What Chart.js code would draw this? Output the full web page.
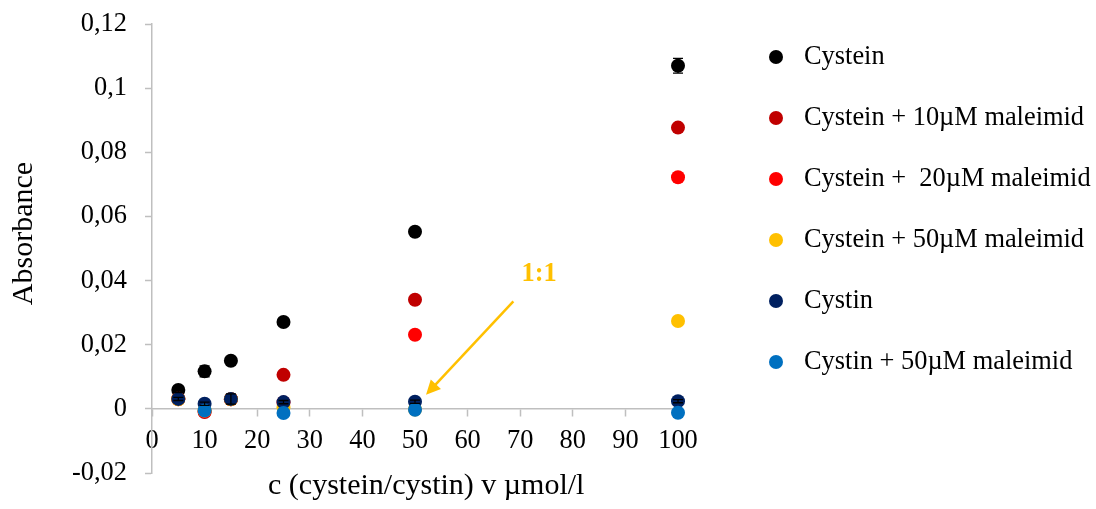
<!DOCTYPE html>
<html>
<head>
<meta charset="utf-8">
<script src="https://cdn.jsdelivr.net/npm/chart.js@4.4.1/dist/chart.umd.min.js"></script>
<style>
  html, body { margin: 0; padding: 0; background: #fff; }
  #wrap { width: 1096px; height: 509px; }
</style>
</head>
<body>
<div id="wrap"><canvas id="chart" width="1096" height="509"></canvas></div>
<script>
// concentrations on the x axis (µmol/l)
const concentrations = [5, 10, 15, 25, 50, 100];

// absorbance per series (null = no point)
const cystein      = [0.0059, 0.0117, 0.0150, 0.0271, 0.0552, 0.1070];
const cystein10    = [0.0032, -0.0010, 0.0030, 0.0106, 0.0340, 0.0877];
const cystein20    = [0.0030, -0.0008, 0.0030, 0.0020, 0.0231, 0.0722];
const cystein50    = [0.0030, -0.0005, 0.0030, 0.0004, -0.0002, 0.0274];
const cystin       = [0.0031, 0.0016, 0.0031, 0.0021, 0.0022, 0.0024];
const cystin50     = [null, -0.0005, null, -0.0013, -0.0003, -0.0012];

// error bars (± absorbance)
const cysteinErr = [0.0008, 0.0017, 0.0010, 0.0010, 0.0012, 0.0023];
const cystinErr  = [0.0005, 0.0005, 0.0016, 0.0005, 0.0005, 0.0005];

const seriesNames = [
  'Cystein',
  'Cystein + 10µM maleimid',
  'Cystein +  20µM maleimid',
  'Cystein + 50µM maleimid',
  'Cystin',
  'Cystin + 50µM maleimid'
];
const seriesValues = [cystein, cystein10, cystein20, cystein50, cystin, cystin50];
const seriesErrors = [cysteinErr, null, null, null, cystinErr, null];
const seriesColors = ['#000000', '#C00000', '#FF0000', '#FFC000', '#002060', '#0070C0'];

// axis limits
const xMin = 0, xMax = 100, xStep = 10;
const yMin = -0.02, yMax = 0.12, yStep = 0.02;

// annotation "1:1" (data coordinates)
const noteText = '1:1';
const noteLabelAt = { x: 73.6, y: 0.0419 };
const noteArrowFrom = { x: 68.7, y: 0.0335 };
const noteArrowTo = { x: 52.1, y: 0.0044 };

const FONT = "'Liberation Serif', 'Times New Roman', serif";
const FSIZE = 26.4;     // ticks, legend
const TSIZE = 30;       // axis titles
const AXIS_GREY = '#BFBFBF';

const fmt = v => parseFloat(Number(v).toFixed(4)).toString().replace('.', ',');

const datasets = seriesValues.map((vals, i) => ({
  label: seriesNames[i],
  data: concentrations.map((c, j) => ({ x: c, y: vals[j] })).filter(p => p.y !== null),
  errors: seriesErrors[i] ? concentrations.map((c, j) => vals[j] === null ? null : seriesErrors[i][j]) : null,
  backgroundColor: seriesColors[i],
  borderColor: seriesColors[i],
  pointRadius: 7,
  pointHoverRadius: 7,
  borderWidth: 0,
  showLine: false,
  clip: false,
  order: seriesValues.length - i   // later series on top, like Excel
}));

const errorBars = {
  id: 'errorBars',
  afterDatasetsDraw(chart) {
    const { ctx, scales: { x, y } } = chart;
    ctx.save();
    ctx.strokeStyle = '#000';
    ctx.lineWidth = 1.3;
    chart.data.datasets.forEach(ds => {
      if (!ds.errors) return;
      ds.data.forEach((p, i) => {
        const e = ds.errors[i];
        if (!e) return;
        const px = x.getPixelForValue(p.x);
        const top = y.getPixelForValue(p.y + e);
        const bot = y.getPixelForValue(p.y - e);
        ctx.beginPath();
        ctx.moveTo(px, top); ctx.lineTo(px, bot);
        ctx.moveTo(px - 5, top); ctx.lineTo(px + 5, top);
        ctx.moveTo(px - 5, bot); ctx.lineTo(px + 5, bot);
        ctx.stroke();
      });
    });
    ctx.restore();
  }
};

const noteArrow = {
  id: 'noteArrow',
  afterDatasetsDraw(chart) {
    const { ctx, scales: { x, y } } = chart;
    const x1 = x.getPixelForValue(noteArrowFrom.x), y1 = y.getPixelForValue(noteArrowFrom.y);
    const x2 = x.getPixelForValue(noteArrowTo.x), y2 = y.getPixelForValue(noteArrowTo.y);
    const ang = Math.atan2(y2 - y1, x2 - x1);
    const head = 16, spread = 0.45;
    ctx.save();
    ctx.strokeStyle = '#FFC000';
    ctx.fillStyle = '#FFC000';
    ctx.lineWidth = 2.5;
    ctx.beginPath();
    ctx.moveTo(x1, y1);
    ctx.lineTo(x2 - Math.cos(ang) * head * 0.8, y2 - Math.sin(ang) * head * 0.8);
    ctx.stroke();
    ctx.beginPath();
    ctx.moveTo(x2, y2);
    ctx.lineTo(x2 - head * Math.cos(ang - spread), y2 - head * Math.sin(ang - spread));
    ctx.lineTo(x2 - head * Math.cos(ang + spread), y2 - head * Math.sin(ang + spread));
    ctx.closePath();
    ctx.fill();
    ctx.font = 'bold ' + FSIZE + 'px ' + FONT;
    ctx.textAlign = 'center';
    ctx.textBaseline = 'middle';
    ctx.fillText(noteText, x.getPixelForValue(noteLabelAt.x), y.getPixelForValue(noteLabelAt.y));
    ctx.restore();
  }
};

// legend on the right, drawn from the datasets
const sideLegend = {
  id: 'sideLegend',
  afterDraw(chart) {
    const { ctx } = chart;
    ctx.save();
    ctx.font = FSIZE + 'px ' + FONT;
    ctx.textBaseline = 'middle';
    ctx.textAlign = 'left';
    chart.data.datasets.forEach((ds, i) => {
      const cy = 57 + i * 61;
      ctx.fillStyle = ds.backgroundColor;
      ctx.beginPath();
      ctx.arc(776, cy, 7, 0, Math.PI * 2);
      ctx.fill();
      ctx.fillStyle = '#000';
      ctx.fillText(ds.label, 804, cy);
    });
    ctx.restore();
  }
};

new Chart(document.getElementById('chart'), {
  type: 'scatter',
  data: { datasets },
  plugins: [errorBars, noteArrow, sideLegend],
  options: {
    responsive: false,
    animation: false,
    devicePixelRatio: 1,
    layout: { padding: { left: 0, right: 418, top: 24, bottom: 36 } },
    plugins: {
      legend: { display: false },
      tooltip: { enabled: false }
    },
    scales: {
      x: {
        type: 'linear',
        position: { y: 0 },
        min: xMin, max: xMax,
        ticks: { stepSize: xStep, color: '#000', font: { family: FONT, size: FSIZE }, padding: 9, maxRotation: 0, autoSkip: false },
        grid: { drawOnChartArea: false, drawTicks: true, tickLength: 7, color: AXIS_GREY, tickWidth: 1.5 },
        border: { color: AXIS_GREY, width: 1.5 },
        // leading spaces nudge the centred title right, as in the original
        title: { display: true, text: '   c (cystein/cystin) v µmol/l', color: '#000', font: { family: FONT, size: TSIZE }, padding: { top: 3, bottom: 0 } }
      },
      y: {
        type: 'linear',
        min: yMin, max: yMax,
        afterFit(scale) { scale.width = 152; scale.paddingTop = 0; scale.paddingBottom = 0; },
        ticks: { stepSize: yStep, color: '#000', font: { family: FONT, size: FSIZE }, padding: 18, callback: v => fmt(v) },
        grid: { drawOnChartArea: false, drawTicks: true, tickLength: 7, color: AXIS_GREY, tickWidth: 1.5 },
        border: { color: AXIS_GREY, width: 1.5 },
        title: { display: true, text: '    Absorbance', color: '#000', font: { family: FONT, size: TSIZE }, padding: { top: 6, bottom: 0 } }
      }
    }
  }
});
</script>
</body>
</html>
